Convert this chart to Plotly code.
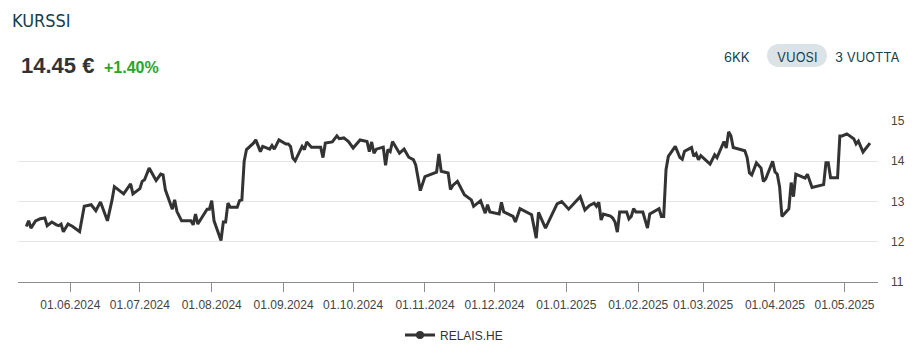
import plotly.graph_objects as go

# ---- data ----
dates = [
    "2024-05-13", "2024-05-14", "2024-05-15", "2024-05-17", "2024-05-19", "2024-05-21", "2024-05-22",
    "2024-05-24", "2024-05-26", "2024-05-27", "2024-05-28", "2024-05-29", "2024-05-31",
    "2024-06-02", "2024-06-05", "2024-06-07", "2024-06-10", "2024-06-12", "2024-06-14", "2024-06-17",
    "2024-06-19", "2024-06-20", "2024-06-24", "2024-06-27", "2024-06-28",
    "2024-07-01", "2024-07-02", "2024-07-03", "2024-07-05", "2024-07-08", "2024-07-10", "2024-07-11",
    "2024-07-12", "2024-07-15", "2024-07-16", "2024-07-17", "2024-07-19", "2024-07-23", "2024-07-24",
    "2024-07-25", "2024-07-26", "2024-07-30", "2024-07-31",
    "2024-08-01", "2024-08-02", "2024-08-05", "2024-08-06", "2024-08-07", "2024-08-08", "2024-08-09",
    "2024-08-12", "2024-08-13", "2024-08-14", "2024-08-15", "2024-08-16", "2024-08-19", "2024-08-20",
    "2024-08-22", "2024-08-23", "2024-08-26", "2024-08-27", "2024-08-28", "2024-08-30",
    "2024-09-02", "2024-09-03", "2024-09-04", "2024-09-05", "2024-09-06", "2024-09-09", "2024-09-10",
    "2024-09-11", "2024-09-12", "2024-09-13", "2024-09-17", "2024-09-18", "2024-09-19", "2024-09-22",
    "2024-09-24", "2024-09-25", "2024-09-27", "2024-09-29",
    "2024-10-01", "2024-10-04", "2024-10-07", "2024-10-08", "2024-10-09", "2024-10-10", "2024-10-11",
    "2024-10-14", "2024-10-15", "2024-10-16", "2024-10-17", "2024-10-18", "2024-10-21", "2024-10-23",
    "2024-10-25", "2024-10-27", "2024-10-28", "2024-10-30",
    "2024-11-01", "2024-11-05", "2024-11-06", "2024-11-07", "2024-11-08", "2024-11-11", "2024-11-12",
    "2024-11-13", "2024-11-15", "2024-11-18", "2024-11-21", "2024-11-22", "2024-11-25", "2024-11-27",
    "2024-11-28", "2024-11-29",
    "2024-12-03", "2024-12-04", "2024-12-05", "2024-12-09", "2024-12-10", "2024-12-12", "2024-12-16",
    "2024-12-17", "2024-12-19", "2024-12-20", "2024-12-23", "2024-12-28", "2024-12-30",
    "2025-01-02", "2025-01-07", "2025-01-09", "2025-01-11", "2025-01-13", "2025-01-14", "2025-01-15",
    "2025-01-16", "2025-01-17", "2025-01-20", "2025-01-21", "2025-01-22", "2025-01-23", "2025-01-24",
    "2025-01-27", "2025-01-28", "2025-01-29", "2025-01-30", "2025-01-31",
    "2025-02-03", "2025-02-05", "2025-02-06", "2025-02-08", "2025-02-10", "2025-02-11", "2025-02-12",
    "2025-02-13", "2025-02-14", "2025-02-17", "2025-02-19", "2025-02-20", "2025-02-21", "2025-02-24",
    "2025-02-25", "2025-02-26", "2025-02-27", "2025-02-28",
    "2025-03-04", "2025-03-06", "2025-03-07", "2025-03-10", "2025-03-11", "2025-03-12", "2025-03-13",
    "2025-03-14", "2025-03-18", "2025-03-19", "2025-03-20", "2025-03-21", "2025-03-22", "2025-03-24",
    "2025-03-26", "2025-03-27", "2025-03-28", "2025-03-31",
    "2025-04-01", "2025-04-02", "2025-04-03", "2025-04-04", "2025-04-07", "2025-04-08", "2025-04-09",
    "2025-04-10", "2025-04-14", "2025-04-15", "2025-04-17", "2025-04-22", "2025-04-23", "2025-04-24",
    "2025-04-25", "2025-04-28", "2025-04-29", "2025-04-30",
    "2025-05-02", "2025-05-05", "2025-05-06", "2025-05-07", "2025-05-09", "2025-05-12",
]
prices = [
    12.38, 12.52, 12.34, 12.52, 12.57, 12.59, 12.40,
    12.49, 12.42, 12.40, 12.44, 12.25, 12.44,
    12.38, 12.25, 12.88, 12.92, 12.77, 12.99, 12.52,
    13.04, 13.37, 13.19, 13.44, 13.19,
    13.32, 13.50, 13.54, 13.83, 13.52, 13.68, 13.66,
    13.29, 12.81, 13.04, 12.75, 12.52, 12.52, 12.42,
    12.69, 12.44, 12.81, 12.81,
    13.02, 12.52, 12.03, 12.49, 12.49, 12.96, 12.86,
    12.86, 13.02, 13.04, 14.00, 14.29, 14.45, 14.53,
    14.24, 14.37, 14.30, 14.39, 14.30, 14.53,
    14.43, 14.43, 14.37, 14.08, 14.01, 14.37, 14.29,
    14.48, 14.41, 14.35, 14.35, 14.09, 14.45, 14.48,
    14.63, 14.56, 14.58, 14.49,
    14.33, 14.53, 14.49, 14.24, 14.48, 14.20, 14.30,
    14.35, 13.90, 14.29, 14.24, 14.49, 14.20, 14.30,
    14.10, 14.04, 13.91, 13.27,
    13.62, 13.71, 13.73, 14.18, 13.75, 13.71, 13.30,
    13.40, 13.50, 13.17, 13.04, 12.88, 13.02, 12.71,
    12.92, 12.74,
    12.69, 12.98, 12.74, 12.63, 12.49, 12.82, 12.69,
    12.67, 12.09, 12.73, 12.34, 12.94, 13.00,
    12.81, 13.12, 12.79, 12.90, 12.96, 12.88, 12.98,
    12.54, 12.69, 12.64, 12.59, 12.49, 12.24, 12.74,
    12.74, 12.57, 12.63, 12.82, 12.74,
    12.74, 12.34, 12.69, 12.75, 12.82, 12.63, 12.63,
    13.79, 14.12, 14.37, 14.09, 14.05, 14.25, 14.34,
    14.12, 14.19, 14.04, 14.14,
    13.93, 14.16, 14.09, 14.49, 14.33, 14.73, 14.63,
    14.34, 14.29, 14.26, 14.09, 13.71, 13.66, 13.96,
    13.83, 13.50, 13.56, 14.00,
    13.74, 13.68, 13.37, 12.63, 12.82, 13.47, 13.12,
    13.68, 13.58, 13.68, 13.35, 13.42, 13.96, 13.96,
    13.59, 13.59, 14.63, 14.63,
    14.68, 14.56, 14.43, 14.50, 14.23, 14.45,
]
tick_dates = ["2024-06-01", "2024-07-01", "2024-08-01", "2024-09-01", "2024-10-01", "2024-11-01",
              "2024-12-01", "2025-01-01", "2025-02-01", "2025-03-01", "2025-04-01", "2025-05-01"]
y_ticks = [11, 12, 13, 14, 15]
series_name = "RELAIS.HE"
last_price = "14.45 €"
change_text = "+1.40%"
range_buttons = ["6KK", "VUOSI", "3 VUOTTA"]

LINE = "#333333"
TEAL = "#143f50"
FONT = "Liberation Sans, Arial, sans-serif"

fig = go.Figure()
fig.add_trace(go.Scatter(
    x=dates, y=prices, mode="lines", showlegend=False,
    line=dict(color=LINE, width=3), hoverinfo="x+y",
))
# legend entry (line + marker symbol)
fig.add_trace(go.Scatter(
    x=[None], y=[None], mode="lines+markers", name=series_name,
    line=dict(color=LINE, width=3), marker=dict(color=LINE, size=8, symbol="circle"),
))

# page body has an 8px default margin, so the figure is 8px smaller on each axis
W, H = 910, 350
fig.update_layout(
    width=W, height=H,
    margin=dict(l=10, r=40, t=113, b=76, autoexpand=False),
    paper_bgcolor="white", plot_bgcolor="white",
    font=dict(family=FONT, size=12, color="#333333"),
    xaxis=dict(
        type="date",
        range=["2024-05-09 10:00", "2025-05-15 11:00"],
        tickvals=tick_dates, tickformat="%d.%m.%Y",
        showgrid=False, zeroline=False, automargin=False,
        showline=True, linecolor="#8c8c8c", linewidth=1,
        ticks="outside", ticklen=9, tickcolor="#8c8c8c", tickwidth=1,
        ticklabelstandoff=3,
        tickfont=dict(size=12, color="#444444"),
    ),
    yaxis=dict(
        range=[11, 15], tickvals=y_ticks, side="right",
        showgrid=True, gridcolor="#e6e6e6", gridwidth=1,
        zeroline=False, showline=False, ticks="", automargin=False,
        ticklabelstandoff=12,
        tickfont=dict(size=12, color="#444444"),
    ),
    legend=dict(
        orientation="h", xref="container", yref="container",
        x=(454 - 8) / W, xanchor="center", y=1 - (335 - 8) / H, yanchor="middle",
        font=dict(size=12, color="#333333"), bgcolor="rgba(0,0,0,0)",
    ),
    showlegend=True,
)

# rounded pill behind the selected range button
k = 6.35
pill = (f"M -18.5,-11.5 L 18.5,-11.5 C {18.5+k},-11.5 30,{-k} 30,0 "
        f"C 30,{k} {18.5+k},11.5 18.5,11.5 L -18.5,11.5 "
        f"C {-18.5-k},11.5 -30,{k} -30,0 C -30,{-k} {-18.5-k},-11.5 -18.5,-11.5 Z")
fig.add_shape(type="path", xref="paper", yref="paper",
              xsizemode="pixel", ysizemode="pixel",
              xanchor=(797 - 18) / 860, yanchor=(282 - 55.5) / 161,
              path=pill, fillcolor="#dce3e7", line=dict(width=0), layer="below")

def px(xp):
    return (xp - 18) / 860

def py(yp):
    return (282 - yp) / 161

fig.add_annotation(text="KURSSI", x=px(10), y=py(21), xref="paper", yref="paper",
                   xanchor="left", yanchor="middle", showarrow=False,
                   font=dict(family="DejaVu Sans Condensed, Liberation Sans Narrow, Arial Narrow, sans-serif",
                             size=18, color=TEAL))
fig.add_annotation(text=f"<b>{last_price}</b>", x=px(19), y=py(66), xref="paper", yref="paper",
                   xanchor="left", yanchor="middle", showarrow=False,
                   font=dict(family=FONT, size=22, color="#333333"))
fig.add_annotation(text=f"<b>{change_text}</b>", x=px(102), y=py(68), xref="paper", yref="paper",
                   xanchor="left", yanchor="middle", showarrow=False,
                   font=dict(family=FONT, size=16, color="#2aa52a"))
for label, cx in zip(range_buttons, [736.5, 797, 867]):
    fig.add_annotation(text=label, x=px(cx), y=py(57), xref="paper", yref="paper",
                       xanchor="center", yanchor="middle", showarrow=False,
                       font=dict(family="Inter, Lato, sans-serif", size=13, color=TEAL))

fig.write_html("out.html")
